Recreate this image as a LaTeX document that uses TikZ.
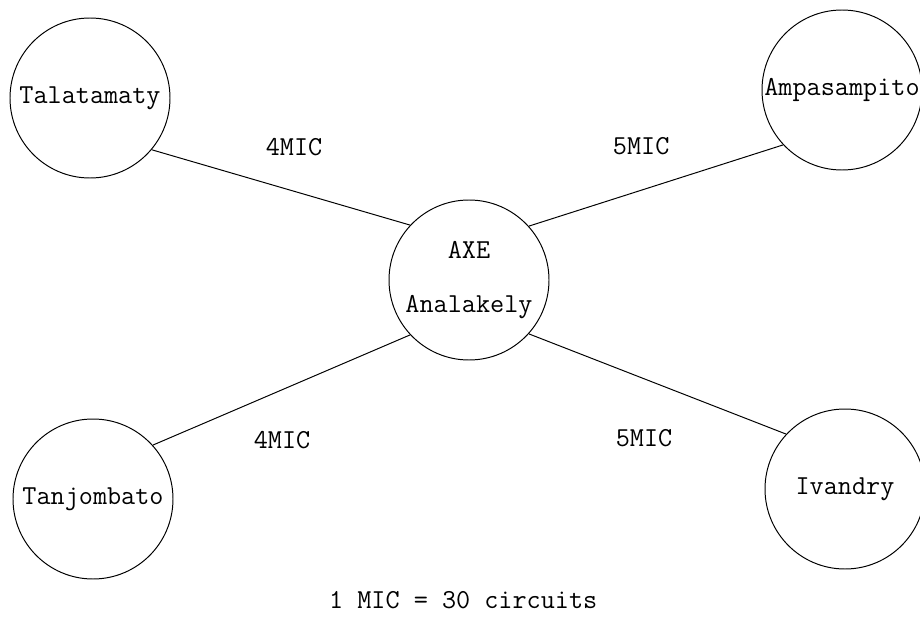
\documentclass[tikz,border=0pt]{standalone}
\usepackage{tikz}
\usetikzlibrary{arrows,positioning,shapes.geometric}
\pgfdeclarelayer{edgelayer}
\pgfdeclarelayer{nodelayer}
\pgfsetlayers{edgelayer,nodelayer,main}
\tikzset{font=\ttfamily\fontsize{19.5}{24}\selectfont}
\tikzstyle{none}=[inner sep=0pt]
\tikzstyle{exchange}=[circle,draw=black,fill=white,line width=0.7pt,minimum size=4cm,inner sep=0pt]
\tikzstyle{link}=[-,draw=black,line width=0.7pt]
\tikzset{every picture/.style={line width=0.7pt}}

\begin{document}
\begin{tikzpicture}
	\useasboundingbox (0,0) rectangle (23,15.4);
	\begin{pgfonlayer}{nodelayer}
		\node [style=exchange] (Tal) at (2.25,12.95) {Talatamaty};
		\node [style=exchange] (Amp) at (21.05,13.15) {Ampasampito};
		\node [style=exchange, align=center] (AXE) at (11.725,8.4) {AXE\\[14pt]Analakely};
		\node [style=exchange] (Tan) at (2.325,2.925) {Tanjombato};
		\node [style=exchange] (Iva) at (21.125,3.175) {Ivandry};
		\node [style=none] (lTal) at (7.35,11.73) {4MIC};
		\node [style=none] (lAmp) at (16.03,11.75) {5MIC};
		\node [style=none] (lTan) at (7.05,4.4) {4MIC};
		\node [style=none] (lIva) at (16.1,4.45) {5MIC};
		\node [style=none] (note) at (11.58,0.4) {1 MIC = 30 circuits};
	\end{pgfonlayer}
	\begin{pgfonlayer}{edgelayer}
		\draw [style=link] (Tal.-40) to (AXE.137);
		\draw [style=link] (Amp.223) to (AXE.42);
		\draw [style=link] (Tan.42) to (AXE.223);
		\draw [style=link] (Iva.137) to (AXE.-42);
	\end{pgfonlayer}
\end{tikzpicture}
\end{document}
